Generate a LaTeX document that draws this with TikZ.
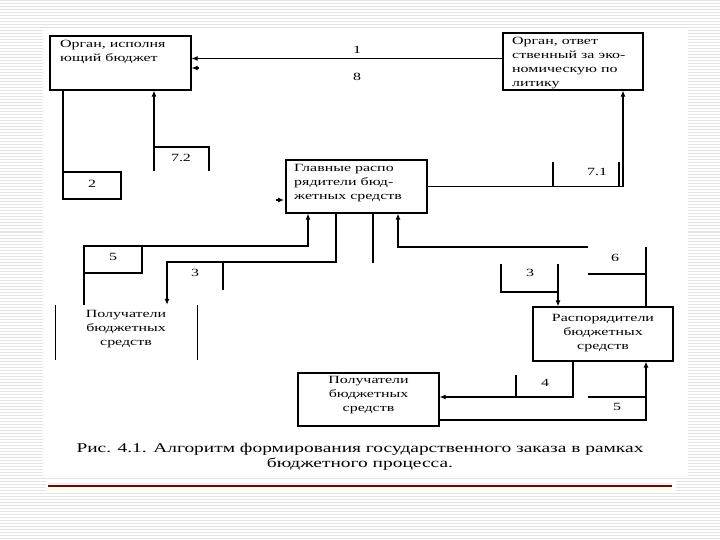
\documentclass[tikz,border=0pt]{standalone}
\usepackage{fontspec}
\setmainfont{Liberation Serif}[FakeStretch=1.45]
\usetikzlibrary{arrows.meta}

\begin{document}
\begin{tikzpicture}[x=1pt, y=-1pt,
    every node/.style={inner sep=0pt},
    box/.style={draw, line width=1.1pt, minimum width=#1},
    txt/.style={font=\fontsize{11}{14}\selectfont},
    num/.style={font=\fontsize{11}{13}\selectfont},
    link/.style={line width=1.1pt},
    arr/.style={line width=1.1pt, -{Latex[length=6pt, width=5pt]}},
    stripe/.style={gray!22, line width=1pt}]

        \useasboundingbox (0,0) rectangle (720,540);

        % Right riser
        \def\xR{646}

        % Slide background
        \foreach \yy in {1,4,...,540}
            \draw[stripe] (0,\yy) -- (720,\yy);
        \fill[white] (43,30) rectangle (688,478);
        \fill[white] (46,480) rectangle (676,492);

        % Boxes
        \node[box=141, minimum height=54] (ispoln) at (120.5,63) {};
        \node[txt, anchor=north west, align=left] (ispolnT) at (60,40)
            {Орган, исполня\\ющий бюджет};

        \node[box=140, minimum height=57] (otvet) at (573,61.5) {};
        \node[txt, anchor=north west, align=left] (otvetT) at (512,37)
            {Орган, ответ\\ственный за эко-\\номическую по\\литику};

        \node[box=141, minimum height=53] (glav) at (356.5,186.5) {};
        \node[txt, anchor=north west, align=left] (glavT) at (294,164)
            {Главные распо\\рядители бюд-\\жетных средств};

        \node[minimum width=141, minimum height=55] (poluchL) at (126.5,332.5) {};
        \node[txt, align=center] (poluchLT) at (126,329)
            {Получатели\\бюджетных\\средств};
        \draw[link] (poluchL.north west) -- (poluchL.south west);
        \draw[link] (poluchL.north east) -- (poluchL.south east);

        \node[box=140, minimum height=54] (rasp) at (603,334) {};
        \node[txt, align=center] (raspT) at (603,333)
            {Распорядители\\бюджетных\\средств};

        \node[box=141, minimum height=53] (poluchN) at (368.5,399.5) {};
        \node[txt, align=center] (poluchNT) at (368.5,395)
            {Получатели\\бюджетных\\средств};

        % Flow 1 and 8
        \draw[arr] ([yshift=3pt]otvet.west) -- ([yshift=3pt]otvet.west -| ispoln.east);
        \coordinate (tip8) at (199,68);
        \draw[arr] (tip8) -- (tip8 -| ispoln.east);
        \node[num] (l1) at (357,50) {1};
        \node[num] (l8) at (357,77) {8};

        % Flow 2
        \draw[link] (ispoln.south -| 63,0) -- (63,199) -- (121,199) -- (121,172) -- (63,172);
        \node[num] (l2) at (92,184) {2};

        % Flow 7.2
        \draw[arr] (154,171) -- (ispoln.south -| 154,0);
        \draw[link] (154,147) -- (209,147) -- (209,171);
        \node[num] (l72) at (181,158) {7.2};

        % Flow 7.1
        \draw[arr] (glav.east) -- (623,186.5) -- (otvet.south -| 623,0);
        \draw[link] (553,162) -- (553,186.5);
        \draw[link] (619,162) -- (619,186.5);
        \node[num] (l71) at (597,172) {7.1};

        \coordinate (tipC) at (276,200);
        \draw[arr] (tipC) -- ++(8,0);

        % Flow 5 (left)
        \draw[arr] (poluchL.north -| 84,0) -- (84,246) -- (308,246) -- (glav.south -| 308,0);
        \draw[link] (84,273) -- (142,273) -- (142,246);
        \node[num] (l5a) at (113,257) {5};

        % Flow 3 (left)
        \draw[arr] (glav.south -| 336,0) -- (336,262) -- (167,262) -- (poluchL.north -| 167,0);
        \draw[link] (223,262) -- (223,290);
        \node[num] (l3a) at (195,273) {3};
        \draw[link] (glav.south -| 373,0) -- (373,263);

        % Flow 6
        \draw[link] (rasp.north -| \xR,0) -- (\xR,247);
        \draw[arr] (588,247) -- (398,247) -- (glav.south -| 398,0);
        \draw[link] (588,274) -- (\xR,274);
        \node[num] (l6) at (615,258) {6};

        % Flow 3 (right)
        \draw[link] (501,264) -- (501,292) -- (558,292);
        \draw[arr] (558,264) -- (rasp.north -| 558,0);
        \node[num] (l3b) at (530,273) {3};

        % Flow 4
        \draw[arr] (rasp.south -| 573,0) -- (573,397) -- (poluchN.east |- 0,397);
        \draw[link] (516,375) -- (516,397);
        \node[num] (l4) at (545,383) {4};

        % Flow 5 (bottom)
        \draw[arr] (poluchN.east |- 0,420) -- (\xR,420) -- (rasp.south -| \xR,0);
        \draw[link] (588,397) -- (\xR,397);
        \node[num] (l5b) at (617,407) {5};

        % Caption
        \node[font=\fontsize{13.4}{15}\selectfont, align=center] (caption) at (360,457)
            {Рис. 4.1. Алгоритм формирования государственного заказа в рамках\\
             бюджетного процесса.};

        % Slide rule
        \draw[cyan!15, line width=1pt] (48,483) -- (672,483);
        \draw[red!50!black, line width=1.2pt] (48,486) -- (672,486);
        \draw[yellow!25, line width=1pt] (48,489) -- (672,489);

    \end{tikzpicture}
\end{document}
